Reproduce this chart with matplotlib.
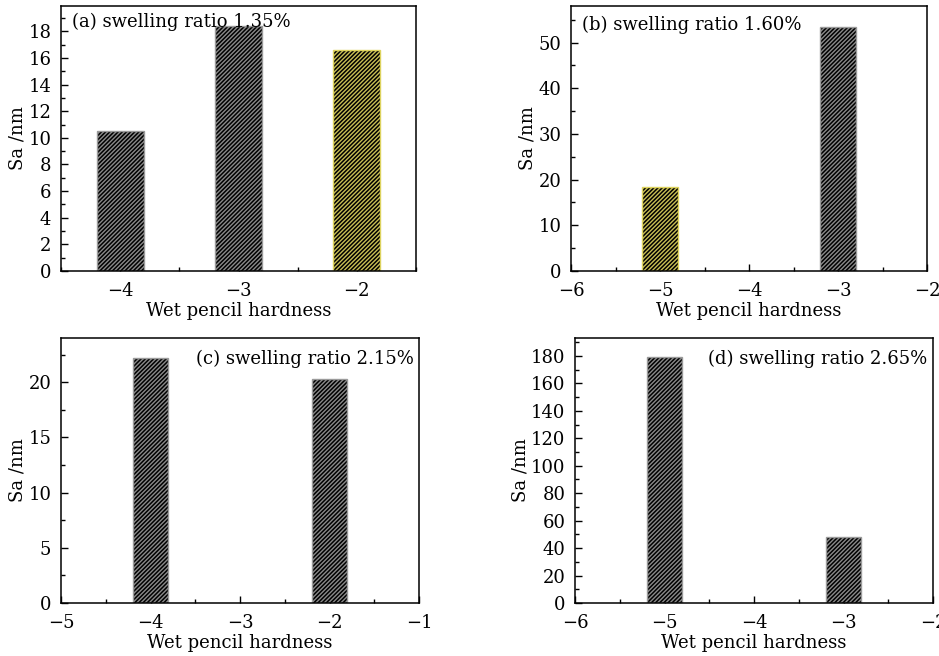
import matplotlib
matplotlib.use("Agg")
import matplotlib.pyplot as plt
from matplotlib.ticker import MultipleLocator

plt.rcParams['font.family'] = ['DejaVu Serif']
plt.rcParams['hatch.linewidth'] = 1.1
plt.rcParams['hatch.color'] = 'black'

# Data
a_x = [-4, -3, -2]
a_y = [10.5, 18.4, 16.6]
b_x = [-5, -3]
b_y = [18.3, 53.5]
c_x = [-4, -2]
c_y = [22.15, 20.3]
d_x = [-5, -3]
d_y = [178.8, 48.1]

titles = ["(a) swelling ratio 1.35%", "(b) swelling ratio 1.60%",
          "(c) swelling ratio 2.15%", "(d) swelling ratio 2.65%"]

DARK_FILL = '#8a8a8a'
DARK_EDGE = '#9a9a9a'
YEL_FILL = '#c9bf55'
YEL_EDGE = '#ddd35e'

fig = plt.figure(figsize=(9.39, 6.56), dpi=100)

def fx(px): return px / 939
def fy(py): return 1 - py / 656

def make_ax(l, r, t, b):
    return fig.add_axes([fx(l), fy(b), fx(r) - fx(l), fy(t) - fy(b)])

axes = [make_ax(61, 416, 6, 271), make_ax(571, 927, 6, 271),
        make_ax(61, 419, 338, 603), make_ax(575, 933, 338, 603)]

FS = 13

def style(ax, xlim, ylim, xmaj, xmin, ymaj, ymin):
    ax.set_xlim(*xlim)
    ax.set_ylim(*ylim)
    ax.xaxis.set_major_locator(MultipleLocator(xmaj))
    ax.xaxis.set_minor_locator(MultipleLocator(xmin))
    ax.yaxis.set_major_locator(MultipleLocator(ymaj))
    ax.yaxis.set_minor_locator(MultipleLocator(ymin))
    ax.tick_params(which='both', direction='in', top=False, right=False,
                   labelsize=FS, width=1.0)
    ax.tick_params(axis='y', which='major', pad=7)
    ax.tick_params(axis='x', which='major', pad=8)
    ax.tick_params(which='major', length=5)
    ax.tick_params(which='minor', length=3)
    for s in ax.spines.values():
        s.set_linewidth(1.1)
    ax.set_xlabel("Wet pencil hardness", fontsize=FS, labelpad=1)
    ax.set_ylabel("Sa /nm", fontsize=FS, labelpad=1)

def bars(ax, x, y, colors):
    for xi, yi, c in zip(x, y, colors):
        fill, edge = (YEL_FILL, YEL_EDGE) if c == 'y' else (DARK_FILL, DARK_EDGE)
        bc = ax.bar(xi, yi, width=0.4, color=fill, edgecolor=edge, hatch='////////',
                    linewidth=1.0, zorder=2)
        for p in bc.patches:
            p._hatch_color = (0.0, 0.0, 0.0, 1.0)

ax = axes[0]
bars(ax, a_x, a_y, ['k', 'k', 'y'])
style(ax, (-4.5, -1.5), (0, 19.9), 1, 0.5, 2, 1)
ax.set_xticks([-4, -3, -2])
ax.text(0.03, 0.975, titles[0], transform=ax.transAxes, ha='left', va='top', fontsize=FS, zorder=5)

ax = axes[1]
bars(ax, b_x, b_y, ['y', 'k'])
style(ax, (-6, -2), (0, 58), 1, 0.5, 10, 5)
ax.text(0.03, 0.965, titles[1], transform=ax.transAxes, ha='left', va='top', fontsize=FS, zorder=5)

ax = axes[2]
bars(ax, c_x, c_y, ['k', 'k'])
style(ax, (-5, -1), (0, 24), 1, 0.5, 5, 2.5)
ax.text(0.985, 0.955, titles[2], transform=ax.transAxes, ha='right', va='top', fontsize=FS, zorder=5)

ax = axes[3]
bars(ax, d_x, d_y, ['k', 'k'])
style(ax, (-6, -2), (0, 193), 1, 0.5, 20, 10)
ax.text(0.985, 0.955, titles[3], transform=ax.transAxes, ha='right', va='top', fontsize=FS, zorder=5)

fig.savefig("out.png", dpi=100)
